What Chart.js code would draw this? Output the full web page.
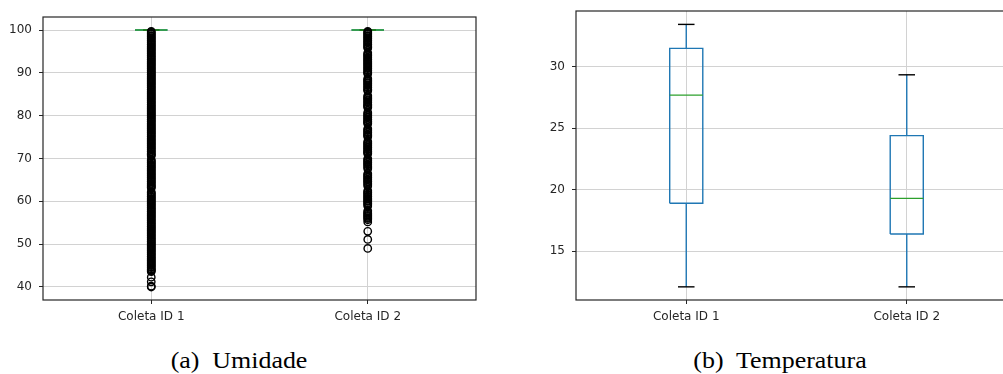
<!DOCTYPE html>
<html>
<head>
<meta charset="utf-8">
<script src="https://cdn.jsdelivr.net/npm/chart.js@4"></script>
<style>
  html, body { margin: 0; padding: 0; background: #fff; overflow: hidden; width: 1003px; height: 374px; }
  .panel { position: absolute; top: 0; }
  .caption {
    position: absolute;
    top: 347.6px;
    font-family: "Liberation Serif", "DejaVu Serif", serif;
    font-size: 24px;
    line-height: 1;
    color: #000;
    white-space: pre;
    transform: translateX(-50%) scaleX(1.08);
  }
</style>
</head>
<body>
<div class="panel" style="left:0"><canvas id="umidade-chart" width="500" height="335"></canvas></div>
<div class="panel" style="left:500px"><canvas id="temperatura-chart" width="530" height="335"></canvas></div>
<div class="caption" style="left:239px">(a)  Umidade</div>
<div class="caption" style="left:780px">(b)  Temperatura</div>

<script>
const categories = ["Coleta ID 1", "Coleta ID 2"];
const positions = [1, 2];

// Umidade: box collapsed at 100, everything below is a flier
const umidLow = [100, 100];
const umidQ1 = [100, 100];
const umidMedian = [100, 100];
const umidQ3 = [100, 100];
const umidHigh = [100, 100];
const umidTicks = [40, 50, 60, 70, 80, 90, 100];

const umidFliers1 = [
  40.0, 40.2, 41.2, 42.3, 43.6, 43.8,
  44.0, 44.2, 44.5, 44.7, 45.0, 45.2, 45.5, 45.7, 46.0, 46.2, 46.5, 46.7,
  47.0, 47.2, 47.5, 47.7, 48.0, 48.2, 48.5, 48.7, 49.0, 49.2, 49.5, 49.7,
  50.0, 50.2, 50.5, 50.7, 51.0, 51.2, 51.5, 51.7, 52.0, 52.2, 52.5, 52.7,
  53.0, 53.2, 53.5, 53.7, 54.0, 54.2, 54.5, 54.7, 55.0, 55.2, 55.5, 55.7,
  56.0, 56.2, 56.5, 56.7, 57.0, 57.2, 57.5, 57.7, 58.0, 58.2, 58.5, 58.7,
  59.0, 59.2, 59.5, 59.7, 60.0, 60.2, 60.5, 60.7, 61.0, 61.2, 61.5, 61.7,
  62.0, 62.2, 63.1, 63.3, 63.5, 63.7, 64.0, 64.2, 64.5, 64.7,
  65.0, 65.2, 65.5, 65.7, 66.0, 66.2, 66.5, 66.7, 67.0, 67.2, 67.5, 67.7,
  68.0, 68.2, 68.5, 68.7, 69.0, 69.2, 69.5, 69.7, 70.6, 70.8, 71.0, 71.2, 71.5,
  71.7, 72.0, 72.2, 72.5, 72.7, 73.0, 73.2, 73.5, 73.7, 74.0, 74.2,
  74.5, 74.7, 75.0, 75.2, 75.5, 75.7, 76.0, 76.2, 76.5, 76.7, 77.0, 77.2,
  77.5, 77.7, 78.0, 78.2, 78.5, 78.7, 79.0, 79.2, 79.5, 79.7, 80.0, 80.2,
  80.5, 80.7, 81.0, 81.2, 81.5, 81.7, 82.0, 82.2, 82.5, 82.7, 83.0, 83.2,
  83.5, 83.7, 84.0, 84.2, 84.5, 84.7, 85.0, 85.2, 85.5, 85.7, 86.0, 86.2,
  86.5, 86.7, 87.0, 87.2, 87.5, 87.7, 88.0, 88.2, 88.5, 88.7, 89.0, 89.2,
  89.5, 89.7, 90.0, 90.2, 90.5, 90.7, 91.0, 91.2, 91.5, 91.7, 92.0, 92.2,
  92.5, 92.7, 93.0, 93.2, 93.5, 93.7, 94.0, 94.2, 94.5, 94.7, 95.0, 95.2,
  95.5, 95.7, 96.0, 96.2, 96.5, 96.7, 97.0, 97.2, 97.5, 97.7, 98.0, 98.2,
  98.5, 98.7, 99.0, 99.2, 99.5, 99.7
];

const umidFliers2 = [
  49.0, 51.1, 53.0, 55.2, 55.7, 56.0, 56.2, 56.5, 56.7, 57.0, 57.2, 57.5, 57.8,
  58.9, 59.2, 59.5, 59.7, 60.0, 60.2, 60.5, 60.7, 61.0, 61.2, 61.5, 61.7, 62.0,
  62.2, 62.5,
  63.6, 63.9, 64.2, 64.5, 64.7, 65.0, 65.2, 65.5, 65.7, 66.0, 66.2, 66.5,
  67.6, 67.9, 68.2, 68.5, 68.7, 69.0, 69.2, 69.5, 69.7, 70.0,
  71.1, 71.3, 71.5, 71.7, 72.0, 72.2, 72.5, 72.7, 73.0, 73.2, 73.5, 73.7, 74.0,
  75.1, 75.3, 75.5, 75.7, 76.0, 76.2, 76.5, 76.7, 77.0,
  78.1, 78.3, 78.5, 78.7, 79.0, 79.2, 79.5, 79.7, 80.0, 80.2, 80.5, 80.8,
  81.9, 82.1, 82.3, 82.5, 82.7, 83.0, 83.2, 83.5, 83.7, 84.0, 84.2, 84.4, 84.7,
  85.8, 86.0, 86.2, 86.5, 86.7, 87.0, 87.2, 87.5, 87.7, 88.0, 88.2, 88.4, 88.7,
  89.8, 90.0, 90.2, 90.5, 90.7, 91.0, 91.2, 91.5, 91.7, 92.0, 92.2, 92.5,
  92.7, 93.0, 93.2, 93.5, 93.7, 94.0, 94.2, 94.4, 94.7,
  95.8, 96.0, 96.2, 96.5, 96.7, 97.0, 97.2, 97.5, 97.7, 98.0, 98.2, 98.5,
  98.7, 99.0, 99.2, 99.5, 99.7
];

// Temperatura
const tempLow = [12.1, 12.1];
const tempQ1 = [18.9, 16.4];
const tempMedian = [27.7, 19.3];
const tempQ3 = [31.5, 24.4];
const tempHigh = [33.45, 29.35];
const tempTicks = [15, 20, 25, 30];

const BOX_HALF = 0.075;
const CAP_HALF = 0.0375;
const BLUE = "#1f77b4";
const GREEN = "#2ca02c";
const INK = "#262626";
const GRID = "#d2d2d2";

const seg = (data, color) => ({
  data,
  showLine: true,
  borderColor: color,
  borderWidth: 1.4,
  pointRadius: 0,
  pointHoverRadius: 0,
  fill: false,
});

const buildDatasets = (low, q1, med, q3, high, fliers) => {
  const sets = [];
  // first dataset ends up on top
  fliers.forEach((vals, i) => {
    sets.push({
      data: vals.map((v) => ({ x: positions[i], y: v })),
      pointStyle: "circle",
      pointRadius: 3.7,
      pointBorderWidth: 1.4,
      borderColor: "#000",
      backgroundColor: "rgba(0,0,0,0)",
    });
  });
  positions.forEach((p, i) => {
    sets.push(seg([{ x: p - BOX_HALF, y: med[i] }, { x: p + BOX_HALF, y: med[i] }], GREEN));
    sets.push(seg([{ x: p - CAP_HALF, y: low[i] }, { x: p + CAP_HALF, y: low[i] }], "#000"));
    sets.push(seg([{ x: p - CAP_HALF, y: high[i] }, { x: p + CAP_HALF, y: high[i] }], "#000"));
    sets.push(seg([{ x: p, y: low[i] }, { x: p, y: q1[i] }], BLUE));
    sets.push(seg([{ x: p, y: q3[i] }, { x: p, y: high[i] }], BLUE));
    sets.push(seg([
      { x: p - BOX_HALF, y: q1[i] },
      { x: p + BOX_HALF, y: q1[i] },
      { x: p + BOX_HALF, y: q3[i] },
      { x: p - BOX_HALF, y: q3[i] },
      { x: p - BOX_HALF, y: q1[i] },
    ], BLUE));
  });
  return sets;
};

const framePlugin = {
  id: "frame",
  afterDatasetsDraw(chart) {
    const { ctx, chartArea: a } = chart;
    ctx.save();
    ctx.strokeStyle = INK;
    ctx.lineWidth = 1.2;
    ctx.strokeRect(a.left, a.top, a.right - a.left, a.bottom - a.top);
    ctx.restore();
  },
};

const tickFont = { family: "DejaVu Sans", size: 12 };

const makeOptions = (yMin, yMax, yTicks, yWidth, pad) => ({
  responsive: false,
  animation: false,
  events: [],
  layout: { padding: pad },
  plugins: { legend: { display: false }, tooltip: { enabled: false } },
  scales: {
    x: {
      type: "linear",
      min: 0.5,
      max: 2.5,
      afterBuildTicks: (s) => { s.ticks = positions.map((v) => ({ value: v })); },
      afterFit: (s) => { s.height = 35; s.paddingLeft = 0; s.paddingRight = 0; },
      ticks: {
        callback: (v, i) => categories[i],
        font: tickFont,
        color: INK,
        padding: 6,
        maxRotation: 0,
        autoSkip: false,
      },
      grid: { color: GRID, lineWidth: 1, tickLength: 4, tickColor: INK },
      border: { display: false },
    },
    y: {
      type: "linear",
      min: yMin,
      max: yMax,
      afterBuildTicks: (s) => { s.ticks = yTicks.map((v) => ({ value: v })); },
      afterFit: (s) => { s.width = yWidth; s.paddingTop = 0; s.paddingBottom = 0; },
      ticks: { font: tickFont, color: INK, padding: 7 },
      grid: { color: GRID, lineWidth: 1, tickLength: 4, tickColor: INK },
      border: { display: false },
    },
  },
});

const umidChart = new Chart(document.getElementById("umidade-chart"), {
  type: "scatter",
  data: { datasets: buildDatasets(umidLow, umidQ1, umidMedian, umidQ3, umidHigh, [umidFliers1, umidFliers2]) },
  options: makeOptions(36.96, 103.05, umidTicks, 43, { top: 17, right: 24, left: 0, bottom: 0 }),
  plugins: [framePlugin],
});

const tempChart = new Chart(document.getElementById("temperatura-chart"), {
  type: "scatter",
  data: { datasets: buildDatasets(tempLow, tempQ1, tempMedian, tempQ3, tempHigh, [[], []]) },
  options: makeOptions(11.03, 34.54, tempTicks, 76, { top: 11, right: 13, left: 0, bottom: 0 }),
  plugins: [framePlugin],
});
</script>
</body>
</html>
